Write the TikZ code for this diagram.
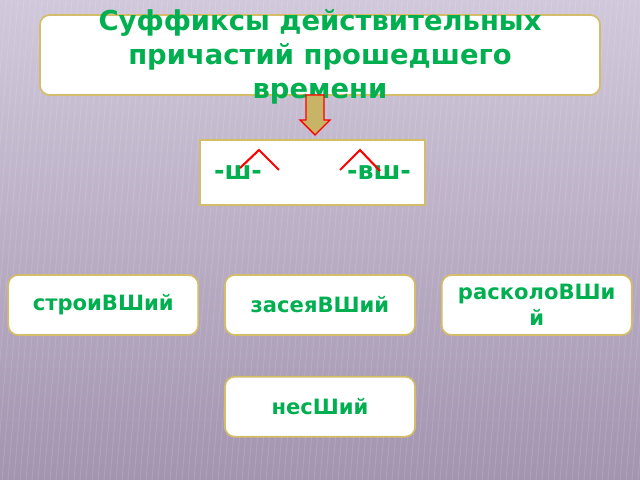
\documentclass[tikz,border=0pt]{standalone}
\usepackage{fontspec}
\setmainfont{DejaVu Sans}
\usepackage{xcolor}
\usepackage{tikz}
\usetikzlibrary{positioning}

\definecolor{sufgreen}{HTML}{00B050}
\definecolor{goldline}{HTML}{D4BC68}
\definecolor{arrowtan}{HTML}{C8B466}
\definecolor{bgtop}{HTML}{D1C9DB}
\definecolor{bgbottom}{HTML}{A394AF}

\begin{document}
\begin{tikzpicture}[
    x=0.025cm, y=0.025cm,
    wordbox/.style={draw=goldline, line width=1.2pt, fill=white, rounded corners=7pt,
        minimum width=4.75cm, minimum height=1.5cm, inner sep=0pt, align=center,
        text=sufgreen, font=\fontsize{15}{18.5}\selectfont\bfseries},
]
% background
\useasboundingbox (0,0) rectangle (640,480);
\shade[top color=bgtop, bottom color=bgbottom] (0,0) rectangle (640,480);
\begin{scope}
\clip (0,0) rectangle (640,480);
\foreach \i in {-40,-34,...,640}
    \draw[white, opacity=0.12, line width=0.6pt] (\i,0) -- (\i+40,480);
\end{scope}

% title
\node [draw=goldline, line width=1.2pt, fill=white, rounded corners=7pt,
    minimum width=14cm, minimum height=2cm] (title) at (320,425) {};
\node [text=sufgreen, align=center, font=\fontsize{19.5}{24}\selectfont\bfseries] (titletext) at (320,423)
    {Суффиксы действительных\\причастий прошедшего\\времени};

% arrow
\draw [red, line width=1pt, fill=arrowtan]
    (306,385) -- (324,385) -- (324,360) -- (330,360) -- (315,345) -- (300,360) -- (306,360) -- cycle;

% suffixes
\node [draw=goldline, line width=1.2pt, fill=white, minimum width=5.625cm, minimum height=1.625cm] (suffixes) at (312.5,307.5) {};
\node [text=sufgreen, font=\fontsize{18}{22}\selectfont\bfseries] (sh) at (238,307) {-ш-};
\node [text=sufgreen, font=\fontsize{18}{22}\selectfont\bfseries] (vsh) at (379,307) {-вш-};
\draw [red, line width=1.5pt] (240,312) -- (259,330) -- (279,310);
\draw [red, line width=1.5pt] (340,310) -- (360,330) -- (380,309);

% words
\node [wordbox] (zaseyal) at (320,175) {засеяВШий};
\node [wordbox, left=0.625cm of zaseyal] (stroil) {строиВШий};
\node [wordbox, right=0.625cm of zaseyal] (raskolol) {расколоВШи\\й};
\node [wordbox, below=1cm of zaseyal] (nes) {несШий};
\end{tikzpicture}
\end{document}
